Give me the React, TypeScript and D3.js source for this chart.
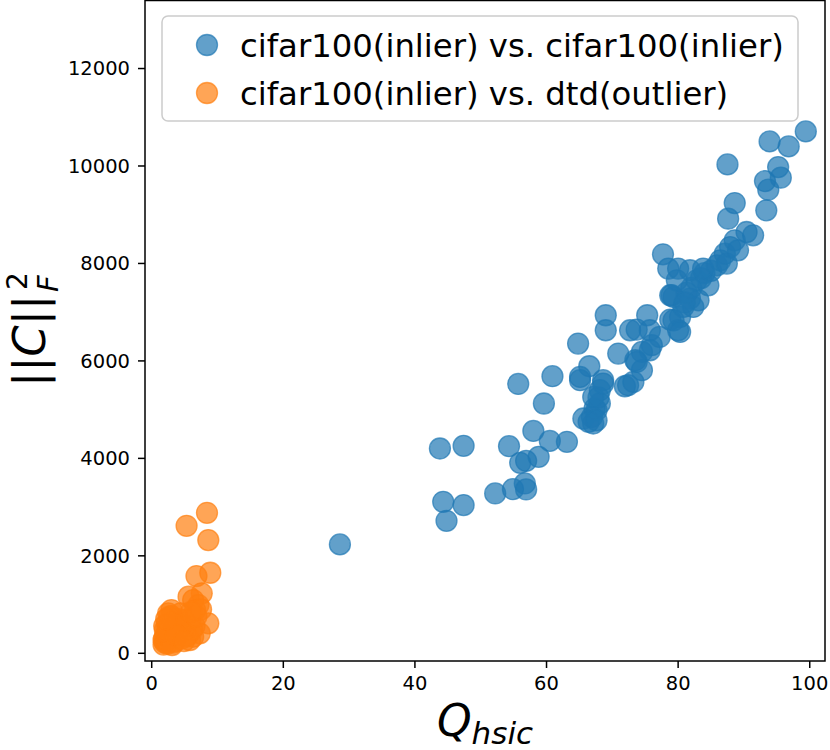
import React from "react";
import * as d3 from "d3";

const width = 830;
const height = 750;
const plot = { left: 145, right: 825, top: 0.5, bottom: 661 };
const font = "DejaVu Sans";

// cifar100 (inlier) vs cifar100 (inlier): [Q_hsic, ||C||_F^2]
const inlierPoints: [number, number][] = [
  [28.6, 2235], [43.8, 4203], [47.4, 4257], [44.3, 3109], [47.4, 3041],
  [44.8, 2719], [52.2, 3281], [54.9, 3369], [56.7, 3486], [56.9, 3363],
  [54.3, 4250], [56.0, 3908], [56.9, 3949], [58.8, 4031], [58.0, 4564],
  [60.5, 4359], [63.1, 4340], [59.6, 5126], [55.7, 5528], [60.9, 5686],
  [64.8, 6356], [66.5, 5891], [65.1, 5604], [68.6, 5604], [68.1, 5399],
  [68.1, 5126], [67.6, 4989], [65.6, 4818], [67.1, 4716], [66.9, 4850],
  [67.3, 5020], [67.9, 5250], [66.4, 4750], [67.6, 4780], [67.1, 5262],
  [65.1, 5672], [68.6, 5536], [69.0, 6937], [69.0, 6629], [72.4, 5501],
  [71.9, 5480], [73.2, 5569], [70.9, 6151], [74.5, 6184], [75.7, 6219],
  [73.5, 6014], [74.5, 5809], [73.7, 5979], [76.0, 6322], [72.7, 6629],
  [73.7, 6643], [75.3, 6937], [77.2, 6492], [75.7, 6629], [78.8, 6848],
  [80.0, 6629], [79.3, 7312], [80.3, 6902], [79.3, 6834], [80.3, 6594],
  [80.8, 7107], [82.3, 7107], [81.8, 7279], [83.1, 7244], [79.0, 7347],
  [78.8, 7347], [81.3, 7400], [82.0, 7500], [79.8, 7654], [82.8, 7654],
  [84.6, 7552], [83.5, 7700], [84.0, 7800], [85.0, 7850], [81.0, 7200],
  [77.7, 8187], [78.5, 7894], [80.0, 7894], [81.8, 7860], [83.8, 7894],
  [85.9, 7962], [86.4, 8065], [87.4, 7997], [87.1, 8200], [87.9, 8337],
  [88.6, 8474], [89.1, 8269], [90.4, 8645], [91.4, 8577], [87.6, 8919],
  [88.6, 9240], [93.4, 9090], [93.7, 9514], [93.2, 9690], [95.6, 9760],
  [95.2, 9977], [87.5, 10033], [93.9, 10505], [96.8, 10402], [99.4, 10710],
];

// cifar100 (inlier) vs dtd (outlier)
const outlierPoints: [number, number][] = [
  [8.4, 2883], [5.3, 2616], [8.6, 2323], [8.9, 1653], [6.8, 1585],
  [7.6, 1230], [5.6, 1161], [6.3, 1093], [8.6, 615], [6.3, 340],
  [2.5, 820], [3.0, 888], [7.3, 410], [5.8, 273], [1.8, 273],
  [7.1, 990], [6.6, 888], [4.3, 620], [1.8, 180], [2.0, 220],
  [2.2, 260], [1.9, 300], [2.4, 200], [2.6, 330], [2.1, 380],
  [2.8, 420], [3.0, 300], [3.2, 480], [2.5, 520], [3.5, 560],
  [2.9, 640], [3.4, 700], [2.3, 600], [3.8, 430], [4.0, 360],
  [3.6, 250], [4.3, 520], [4.6, 620], [4.1, 700], [3.0, 760],
  [2.7, 750], [4.8, 450], [5.2, 560], [5.6, 400], [5.0, 680],
  [4.4, 820], [5.9, 700], [6.5, 560], [6.1, 480], [3.3, 220],
  [2.0, 480], [1.9, 560], [3.9, 600], [4.5, 300], [5.3, 350],
  [6.8, 760], [7.5, 900], [6.0, 850], [3.1, 170], [2.4, 440],
  [3.7, 380], [4.9, 250], [2.2, 700],
];

const xTicks = [0, 20, 40, 60, 80, 100];
const yTicks = [0, 2000, 4000, 6000, 8000, 10000, 12000];
const seriesLabels = [
  "cifar100(inlier) vs. cifar100(inlier)",
  "cifar100(inlier) vs. dtd(outlier)",
];
const seriesColors = ["#1f77b4", "#ff7f0e"];

const x = d3.scaleLinear().domain([-1.02, 102.32]).range([plot.left, plot.right]);
const y = d3.scaleLinear().domain([-158, 13396]).range([plot.bottom, plot.top]);

const markerR = 10.5;

function Dots({ data, color }: { data: [number, number][]; color: string }) {
  return (
    <g>
      {data.map((d, i) => (
        <circle
          key={i}
          cx={x(d[0])}
          cy={y(d[1])}
          r={markerR}
          fill={color}
          fillOpacity={0.7}
          stroke={color}
          strokeOpacity={0.7}
          strokeWidth={1.3}
        />
      ))}
    </g>
  );
}

export default function App() {
  return (
    <svg
      width={width}
      height={height}
      style={{ position: "absolute", left: 0, top: 0, background: "#fff" }}
      fontFamily={font}
    >
      <rect width={width} height={height} fill="#fff" />
      <Dots data={inlierPoints} color={seriesColors[0]} />
      <Dots data={outlierPoints} color={seriesColors[1]} />

      {/* frame */}
      <rect
        x={plot.left}
        y={plot.top}
        width={plot.right - plot.left}
        height={plot.bottom - plot.top}
        fill="none"
        stroke="#000"
        strokeWidth={1.5}
      />

      {/* x ticks */}
      {xTicks.map((t) => (
        <g key={t} transform={`translate(${x(t)},${plot.bottom})`}>
          <line y2={7} stroke="#000" strokeWidth={1.5} />
          <text y={29} textAnchor="middle" fontSize={19.5}>
            {t}
          </text>
        </g>
      ))}

      {/* y ticks */}
      {yTicks.map((t) => (
        <g key={t} transform={`translate(${plot.left},${y(t)})`}>
          <line x2={-7} stroke="#000" strokeWidth={1.5} />
          <text x={-15} dy="0.35em" textAnchor="end" fontSize={19.5}>
            {t}
          </text>
        </g>
      ))}

      {/* x label */}
      <text x={(plot.left + plot.right) / 2} y={736} textAnchor="middle">
        <tspan fontSize={44} fontStyle="italic">Q</tspan>
        <tspan fontSize={31} fontStyle="italic" dy={8}>hsic</tspan>
      </text>

      {/* y label */}
      <g transform={`translate(45,330) rotate(-90)`}>
        <text x={-57} y={0} fontSize={45}>
          <tspan>||</tspan>
          <tspan fontStyle="italic">C</tspan>
          <tspan>||</tspan>
        </text>
        <text x={40} y={-18} fontSize={28}>2</text>
        <text x={38} y={13} fontSize={29} fontStyle="italic">F</text>
      </g>

      {/* legend */}
      <rect
        x={162}
        y={16}
        width={636}
        height={105}
        rx={6}
        fill="#fff"
        fillOpacity={0.8}
        stroke="#cccccc"
        strokeWidth={1.5}
      />
      {seriesLabels.map((label, i) => (
        <g key={label} transform={`translate(207,${45 + i * 48})`}>
          <circle
            r={markerR}
            fill={seriesColors[i]}
            fillOpacity={0.7}
            stroke={seriesColors[i]}
            strokeOpacity={0.7}
            strokeWidth={1.3}
          />
          <text x={33} dy="0.36em" fontSize={32.3}>
            {label}
          </text>
        </g>
      ))}
    </svg>
  );
}
